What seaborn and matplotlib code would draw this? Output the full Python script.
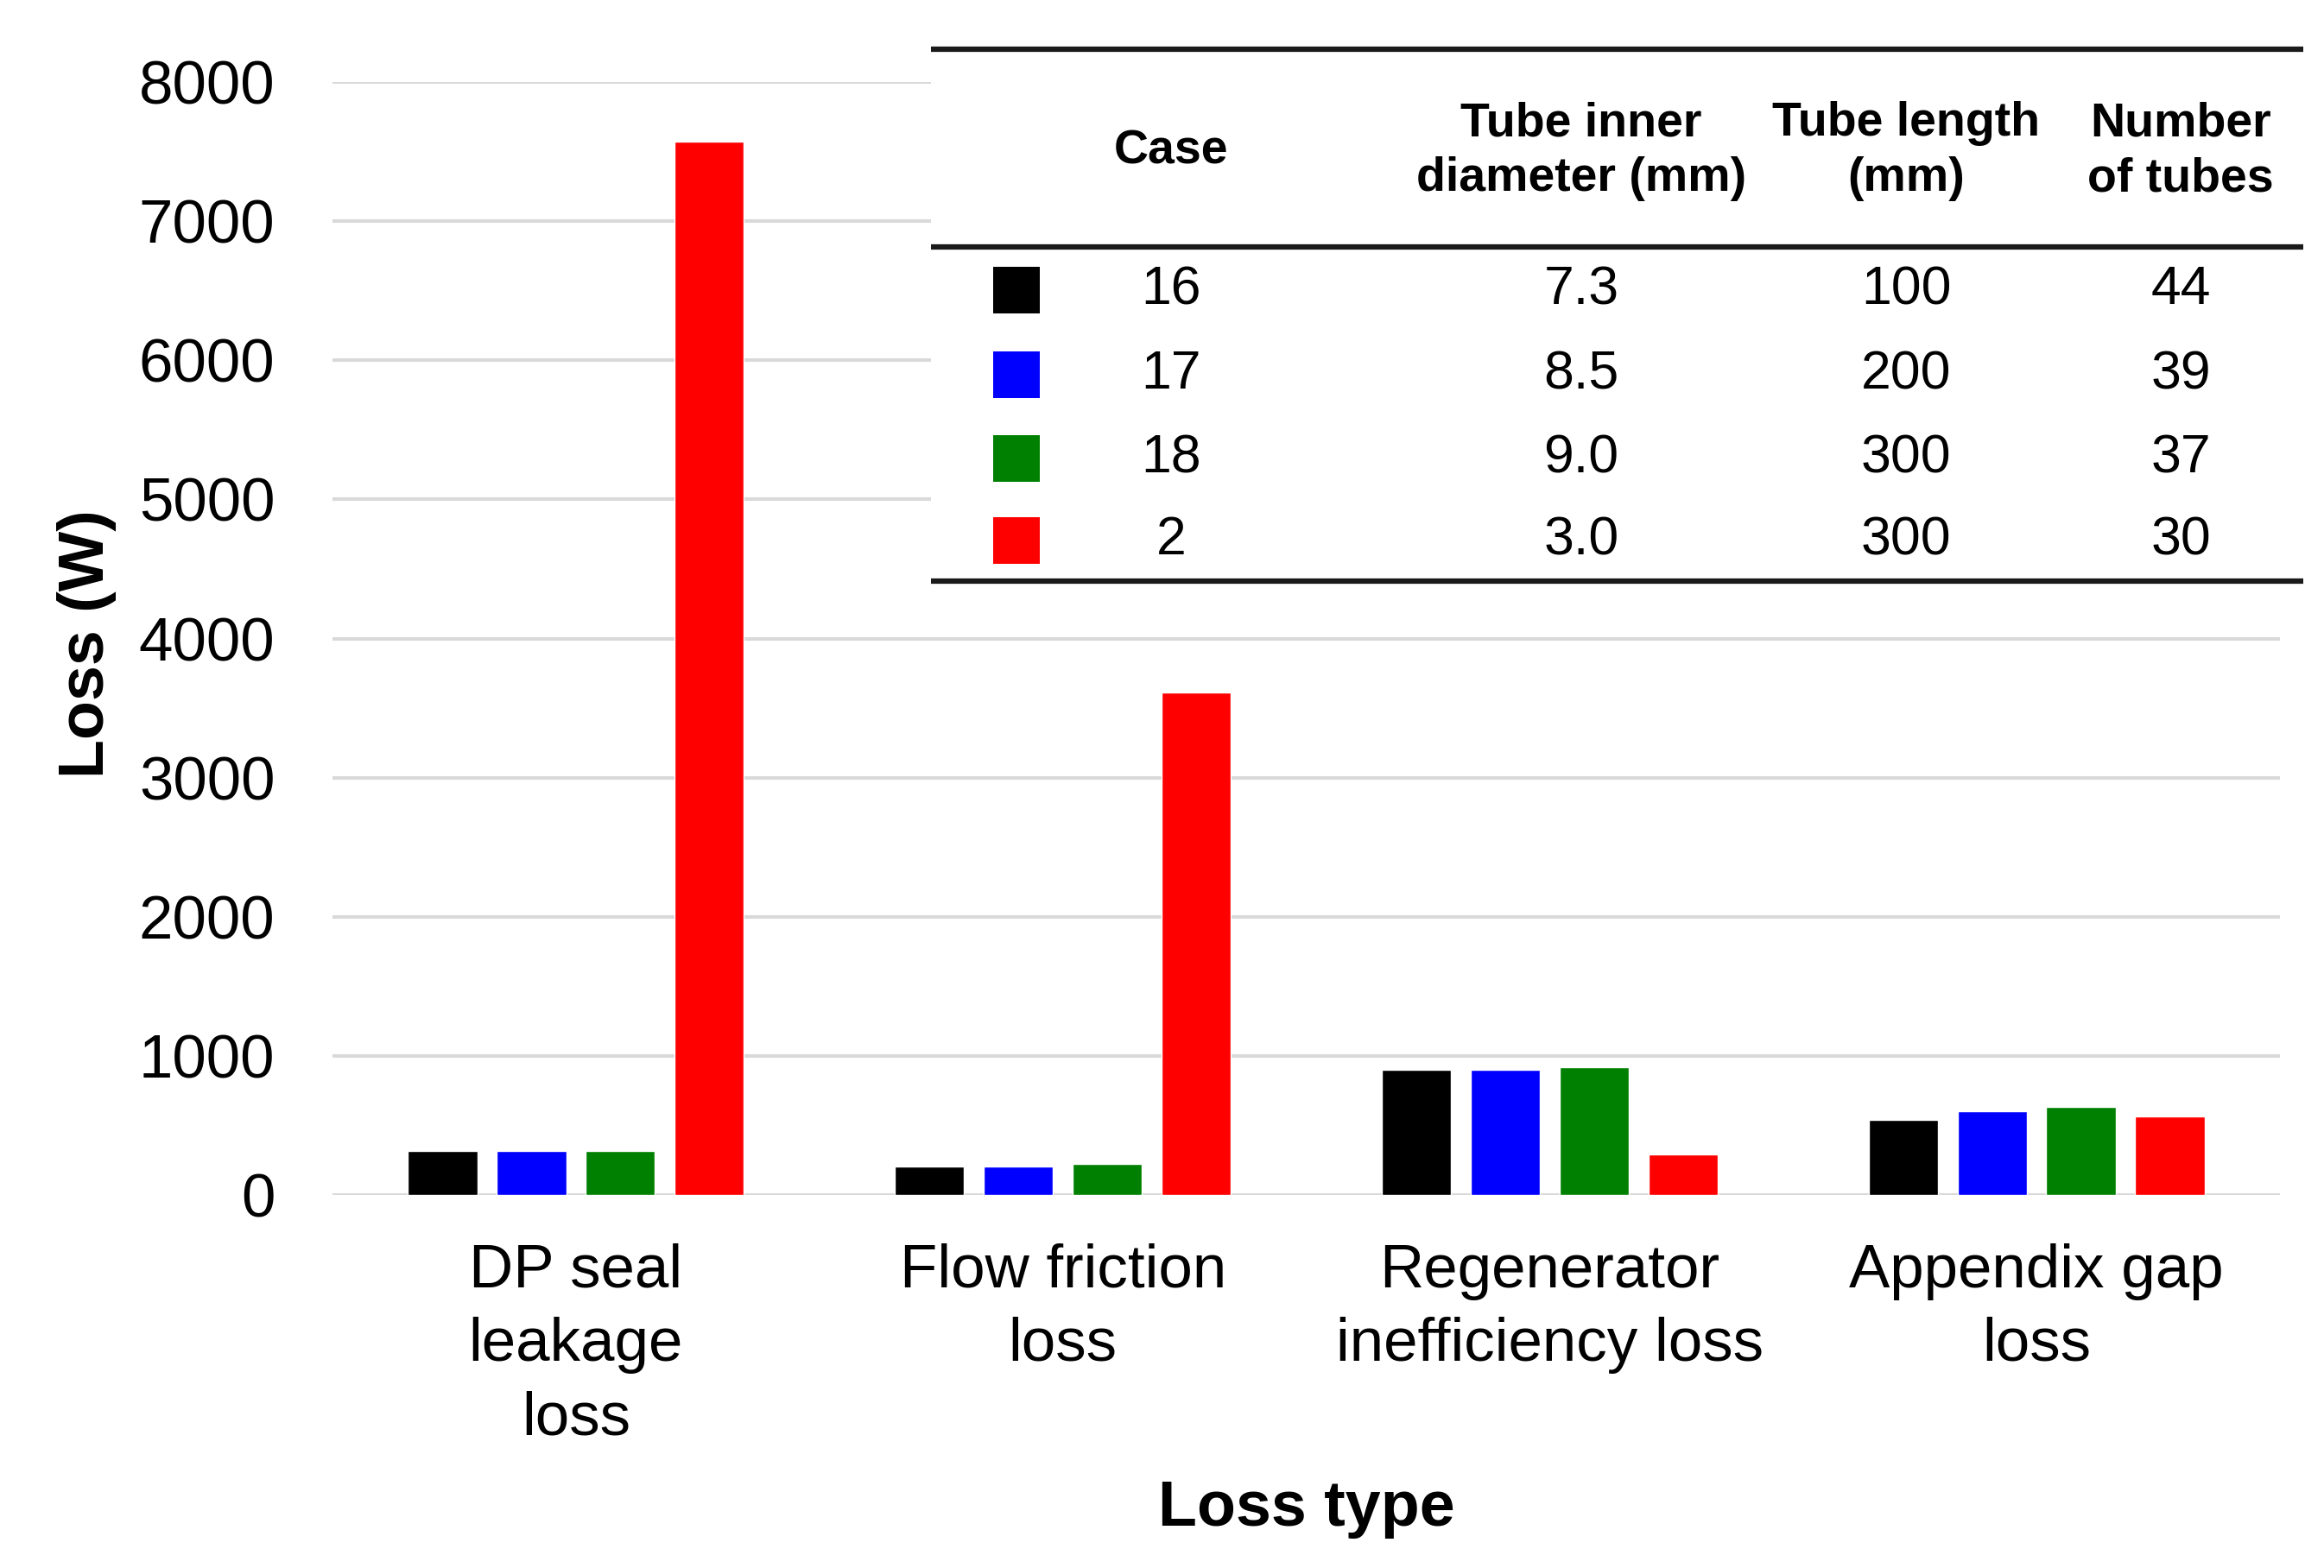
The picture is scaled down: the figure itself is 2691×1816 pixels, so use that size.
import numpy as np
import pandas as pd
import matplotlib
matplotlib.use("Agg")
import matplotlib.pyplot as plt
import seaborn as sns

# loss categories (x axis) and the four cases
LOSS_TYPES = ["DP seal\nleakage\nloss", "Flow friction\nloss",
              "Regenerator\ninefficiency loss", "Appendix gap\nloss"]
CASES = ["16", "17", "18", "2"]
CASE_COLORS = ["#000000", "#0000ff", "#008000", "#ff0000"]

# loss (W) per case, in LOSS_TYPES order
LOSS_16 = [315, 204, 901, 537]
LOSS_17 = [315, 204, 901, 605]
LOSS_18 = [315, 222, 920, 630]
LOSS_2 = [7570, 3610, 290, 562]

# inset table
TUBE_DIAM = ["7.3", "8.5", "9.0", "3.0"]
TUBE_LEN = ["100", "200", "300", "300"]
N_TUBES = ["44", "39", "37", "30"]

Y_TICKS = [0, 1000, 2000, 3000, 4000, 5000, 6000, 7000, 8000]

sns.set_theme(style="white")
plt.rcParams["font.family"] = ["Liberation Sans", "DejaVu Sans"]
for k in ["text.color", "axes.labelcolor", "xtick.color", "ytick.color"]:
    plt.rcParams[k] = "black"

df = pd.DataFrame({
    "loss_type": LOSS_TYPES * 4,
    "case": np.repeat(CASES, len(LOSS_TYPES)),
    "loss": LOSS_16 + LOSS_17 + LOSS_18 + LOSS_2,
})

W, H = 2691, 1816
fig = plt.figure(figsize=(W / 100, H / 100), dpi=100)
ax = fig.add_axes([385 / W, 1 - 1384 / H, (2640 - 385) / W, (1384 - 95) / H])

sns.barplot(data=df, x="loss_type", y="loss", hue="case", hue_order=CASES,
            palette=CASE_COLORS, width=0.73, gap=0.22, saturation=1,
            legend=False, ax=ax, errorbar=None)

ax.set_ylim(0, 8000)
ax.set_xlim(-0.5, 3.5)
ax.set_yticks(Y_TICKS)
ax.yaxis.grid(True, color="#d9d9d9", linewidth=2.9)
ax.xaxis.grid(False)
ax.set_axisbelow(True)
for s in ax.spines.values():
    s.set_visible(False)
ax.tick_params(axis="y", length=0, pad=48, labelsize=51)
ax.tick_params(axis="x", length=0, pad=40, labelsize=51)
for lab in ax.get_xticklabels():
    lab.set_linespacing(1.38)

ax.set_xlabel("Loss type", fontsize=53, fontweight="bold")
ax.set_ylabel("Loss (W)", fontsize=53, fontweight="bold")
ax.xaxis.set_label_coords(0.5, -0.255)
ax.yaxis.set_label_coords(-0.111, 0.495)

# table drawn as its own axes, local pixel coords (y down)
tx0, tx1, ty0, ty1 = 1078, 2667, 57, 673
tab = fig.add_axes([tx0 / W, 1 - ty1 / H, (tx1 - tx0) / W, (ty1 - ty0) / H])
tab.set_facecolor("white")
tab.set_xlim(0, tx1 - tx0)
tab.set_ylim(ty1 - ty0, 0)
tab.set_xticks([])
tab.set_yticks([])
for s in tab.spines.values():
    s.set_visible(False)

for yy in [0, 229, ty1 - ty0]:
    tab.plot([0, tx1 - tx0], [yy, yy], color="#1a1a1a", lw=4.5,
             solid_capstyle="butt", clip_on=False)

col_x = [99, 278, 753, 1129, 1447]
hdr = ["Case", "Tube inner\ndiameter (mm)", "Tube length\n(mm)", "Number\nof tubes"]
for x, t in zip(col_x[1:], hdr):
    tab.text(x, 118, t, ha="center", va="center", fontsize=40,
             fontweight="bold", linespacing=1.3)

row_y = [279, 377, 474, 569]
sw = 54
for i, y in enumerate(row_y):
    tab.add_patch(plt.Rectangle((col_x[0] - sw / 2, y - sw / 2), sw, sw,
                                color=CASE_COLORS[i], lw=0))
    for x, t in zip(col_x[1:], [CASES[i], TUBE_DIAM[i], TUBE_LEN[i], N_TUBES[i]]):
        tab.text(x, y, t, ha="center", va="center", fontsize=45)

fig.savefig("out.png", dpi=100, facecolor="white")
